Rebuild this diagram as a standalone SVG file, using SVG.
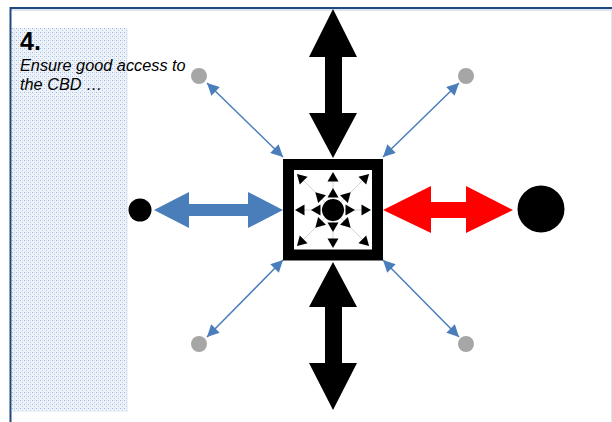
<svg xmlns="http://www.w3.org/2000/svg" width="612" height="422" viewBox="0 0 612 422">
  <defs>
    <pattern id="dots" width="4" height="4" patternUnits="userSpaceOnUse">
      <rect width="4" height="4" fill="#eef2f9"/>
      <rect x="0" y="0" width="1" height="1" fill="#9db8e0"/>
      <rect x="2" y="2" width="1" height="1" fill="#b9cdea"/>
      <rect x="2" y="0" width="1" height="1" fill="#d3e0f2"/>
    </pattern>
    <marker id="head" viewBox="0 0 10 10" refX="10" refY="5" markerWidth="15" markerHeight="12" markerUnits="userSpaceOnUse" orient="auto-start-reverse">
      <path d="M0,0 L10,5 L0,10 z" fill="#4a7ebb"/>
    </marker>
    <polygon id="tri" points="0,-5 5.5,4.5 -5.5,4.5" fill="#000"/>
  </defs>
  <style>
    .frame { stroke: #1f497d; stroke-width: 2; fill: none; }
    .thin { stroke: #4a7ebb; stroke-width: 1.5; fill: none; marker-start: url(#head); marker-end: url(#head); }
    .spoke { stroke: #c8c8c8; stroke-width: 0.8; }
    .title { font-family: "Liberation Sans", Arial, sans-serif; font-weight: bold; font-size: 25px; fill: #000; }
    .sub { font-family: "Liberation Sans", Arial, sans-serif; font-style: italic; font-size: 16.3px; fill: #000; }
  </style>

  <rect width="612" height="422" fill="#fff"/>

  <!-- panel frame -->
  <g id="frame">
    <line x1="10" y1="8" x2="612" y2="8" class="frame"/>
    <line x1="10" y1="10" x2="612" y2="10" stroke="#b9cbe3" stroke-width="1"/>
    <line x1="10.5" y1="7" x2="10.5" y2="422" class="frame"/>
    <line x1="611.5" y1="9" x2="611.5" y2="422" stroke="#e4e4e4" stroke-width="1"/>
  </g>

  <!-- dotted side band -->
  <rect x="12" y="28" width="116" height="384" fill="url(#dots)"/>

  <!-- caption -->
  <g id="caption">
    <text x="20" y="50" class="title">4.</text>
    <text x="20" y="71" class="sub">Ensure good access to</text>
    <text x="20" y="90" class="sub">the CBD …</text>
  </g>

  <!-- connectors -->
  <g id="connectors">
    <polygon id="arrow-north" points="333,9 357,57 342,57 342,113 357,113 333,158 309,113 325,113 325,57 309,57" fill="#000"/>
    <polygon id="arrow-south" points="333,262 357,307 342,307 342,363 357,363 333,410 309,363 325,363 325,307 309,307" fill="#000"/>
    <polygon id="arrow-west" points="154,210 189,192 189,204 248,204 248,192 283,210 248,228 248,216 189,216 189,228" fill="#4a7ebb"/>
    <polygon id="arrow-east" points="383,210 431,186 431,202 466,202 466,186 513,210 466,233 466,218 431,218 431,233" fill="#ff0000"/>
    <line x1="207" y1="83" x2="283" y2="157" class="thin"/>
    <line x1="459" y1="83" x2="383" y2="157" class="thin"/>
    <line x1="207" y1="337" x2="283" y2="260" class="thin"/>
    <line x1="459" y1="337" x2="383" y2="260" class="thin"/>
  </g>

  <!-- central hub -->
  <g id="hub">
    <rect x="288.5" y="164.5" width="89" height="90.5" fill="#fff" stroke="#000" stroke-width="11"/>
    <g class="spoke">
      <line x1="333" y1="210" x2="333" y2="174"/>
      <line x1="333" y1="210" x2="333" y2="246"/>
      <line x1="333" y1="210" x2="297" y2="210"/>
      <line x1="333" y1="210" x2="369" y2="210"/>
      <line x1="333" y1="210" x2="297" y2="174"/>
      <line x1="333" y1="210" x2="369" y2="174"/>
      <line x1="333" y1="210" x2="297" y2="246"/>
      <line x1="333" y1="210" x2="369" y2="246"/>
    </g>
    <g transform="translate(333,210)">
      <use href="#tri" transform="rotate(0) translate(0,-17)"/>
      <use href="#tri" transform="rotate(45) translate(0,-20)"/>
      <use href="#tri" transform="rotate(90) translate(0,-17)"/>
      <use href="#tri" transform="rotate(135) translate(0,-20)"/>
      <use href="#tri" transform="rotate(180) translate(0,-17)"/>
      <use href="#tri" transform="rotate(225) translate(0,-20)"/>
      <use href="#tri" transform="rotate(270) translate(0,-17)"/>
      <use href="#tri" transform="rotate(315) translate(0,-20)"/>
      <use href="#tri" transform="rotate(0) translate(0,-33)"/>
      <use href="#tri" transform="rotate(45) translate(0,-46)"/>
      <use href="#tri" transform="rotate(90) translate(0,-33)"/>
      <use href="#tri" transform="rotate(135) translate(0,-46)"/>
      <use href="#tri" transform="rotate(180) translate(0,-33)"/>
      <use href="#tri" transform="rotate(225) translate(0,-46)"/>
      <use href="#tri" transform="rotate(270) translate(0,-33)"/>
      <use href="#tri" transform="rotate(315) translate(0,-46)"/>
    </g>
    <circle cx="333" cy="210" r="11" fill="#000"/>
  </g>

  <!-- outlying places -->
  <g id="place-west"><circle cx="140" cy="210" r="11.5" fill="#000"/></g>
  <g id="place-east"><circle cx="541" cy="209" r="23.5" fill="#000"/></g>
  <g id="place-nw"><circle cx="199" cy="76" r="8" fill="#a6a6a6"/></g>
  <g id="place-ne"><circle cx="466" cy="76" r="8" fill="#a6a6a6"/></g>
  <g id="place-sw"><circle cx="199" cy="344" r="8" fill="#a6a6a6"/></g>
  <g id="place-se"><circle cx="466" cy="344" r="8" fill="#a6a6a6"/></g>
</svg>
